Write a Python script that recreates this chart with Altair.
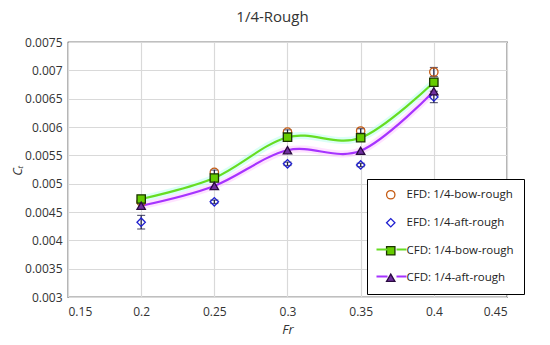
import altair as alt
import pandas as pd

fr = [0.2, 0.25, 0.3, 0.35, 0.4]
efd_bow = [0.00468, 0.00520, 0.00591, 0.00593, 0.00697]
efd_aft = [0.00432, 0.00468, 0.00535, 0.00533, 0.00653]
cfd_bow = [0.00473, 0.00510, 0.00582, 0.00581, 0.00679]
cfd_aft = [0.00461, 0.00496, 0.00559, 0.00558, 0.00663]
err_bow = [0.00004, 0.00004, 0.00004, 0.00004, 0.00008]
err_aft = [0.00012, 0.00003, 0.00003, 0.00003, 0.00010]
x_ticks = [0.15, 0.2, 0.25, 0.3, 0.35, 0.4, 0.45]
y_ticks = [0.003, 0.0035, 0.004, 0.0045, 0.005, 0.0055, 0.006, 0.0065, 0.007, 0.0075]

series = ["EFD: 1/4-bow-rough", "EFD: 1/4-aft-rough", "CFD: 1/4-bow-rough", "CFD: 1/4-aft-rough"]
shapes = ["circle", "diamond", "square", "triangle-up"]
strokes = ["#c55a11", "#1f1fd0", "#1a3300", "#2a0a40"]
fills = ["transparent", "transparent", "#66cc00", "#7030a0"]
line_colors = {"CFD: 1/4-bow-rough": "#66dd22", "CFD: 1/4-aft-rough": "#a633ff"}
glow_colors = {"CFD: 1/4-bow-rough": "#b8fff0", "CFD: 1/4-aft-rough": "#ffc8ff"}

rows = []
for name, vals, errs in [(series[0], efd_bow, err_bow), (series[1], efd_aft, err_aft),
                         (series[2], cfd_bow, None), (series[3], cfd_aft, None)]:
    for i, (x, v) in enumerate(zip(fr, vals)):
        e = errs[i] if errs else 0
        rows.append({"Fr": x, "CT": v, "series": name, "lo": v - e, "hi": v + e,
                     "lc": line_colors.get(name, ""), "gc": glow_colors.get(name, "")})
df = pd.DataFrame(rows)

yscale = alt.Scale(domain=[0.003, 0.0075], nice=False, zero=False)
yaxis = alt.Axis(values=y_ticks, title="Cₜ", titleFontStyle="italic", format="~g",
                 labelOverlap=False, titleX=-44, titleY=128)
xs = alt.X("Fr:Q", scale=alt.Scale(domain=[0.15, 0.45], nice=False),
           axis=alt.Axis(values=x_ticks, title="Fr", titleFontStyle="italic", format="~g",
                         labelOverlap=False, labelPadding=9))
ys = alt.Y("CT:Q", scale=yscale, axis=yaxis, title="Cₜ")

base = alt.Chart(df)
cfd = base.transform_filter(alt.datum.lc != "")

glow = cfd.mark_line(interpolate="cardinal", strokeWidth=7, opacity=0.5).encode(
    x=xs, y=ys, stroke=alt.Stroke("gc:N", scale=None), detail="series:N")


def line_layer(name, field, ly):
    leg = alt.Legend(title=None, orient="none", legendX=307, legendY=ly, padding=0,
                     symbolType="stroke", symbolSize=900, symbolStrokeColor=line_colors[name],
                     symbolStrokeWidth=2.2, symbolDash=[11, 9, 11], labelExpr="''",
                     labelFontSize=12)
    return (base.transform_filter(alt.datum.series == name)
            .transform_calculate(**{field: "datum.series"})
            .mark_line(interpolate="cardinal", strokeWidth=2.2, color=line_colors[name])
            .encode(x=xs, y=ys,
                    opacity=alt.Opacity(f"{field}:N", scale=alt.Scale(domain=[name], range=[1]),
                                        legend=leg)))


line_bow = line_layer(series[2], "lbow", 191)
line_aft = line_layer(series[3], "laft", 218)

efd = base.transform_filter(alt.datum.lc == "")
errs = efd.mark_errorbar(ticks=alt.TickConfig(size=8), thickness=1.2, color="#1a1a40").encode(
    x=xs, y=alt.Y("lo:Q", scale=yscale, axis=yaxis, title="Cₜ"), y2="hi:Q")

legend = alt.Legend(title=None, orient="none", legendX=299, legendY=137, fillColor="white",
                    strokeColor="black", padding=10, rowPadding=13, labelFontSize=11.5,
                    labelFont="Open Sans", labelColor="#222222", symbolSize=70,
                    symbolStrokeWidth=1.3, labelOffset=10, symbolOffset=8)
pts = base.mark_point(size=70, strokeWidth=1.3, opacity=1, filled=False).encode(
    x=xs, y=ys,
    shape=alt.Shape("series:N", scale=alt.Scale(domain=series, range=shapes), legend=legend),
    color=alt.Color("series:N", scale=alt.Scale(domain=series, range=strokes), legend=legend),
    fill=alt.Fill("series:N", scale=alt.Scale(domain=series, range=fills), legend=legend),
)

chart = alt.layer(glow, line_bow, line_aft, errs, pts).resolve_scale(
    opacity="independent"
).properties(
    width=439, height=255,
    autosize=alt.AutoSizeParams(type="none"),
    padding={"left": 60, "top": 34, "right": 35, "bottom": 40},
    title=alt.TitleParams("1/4-Rough", fontSize=15, font="Open Sans", fontWeight="normal",
                          color="#333333", dx=-15, offset=11),
).configure_view(stroke="black", strokeWidth=1.2).configure_axis(
    grid=True, gridColor="#d9d9d9", gridWidth=1.2, ticks=False, domain=False,
    labelFont="Open Sans", labelFontSize=12, labelColor="#333333", labelPadding=6,
    titleFont="Open Sans", titleFontSize=13, titleFontWeight="normal", titleColor="#333333",
).configure_axisX(titlePadding=6)

chart.save("out.html", embed_options={"renderer": "svg", "actions": False})
